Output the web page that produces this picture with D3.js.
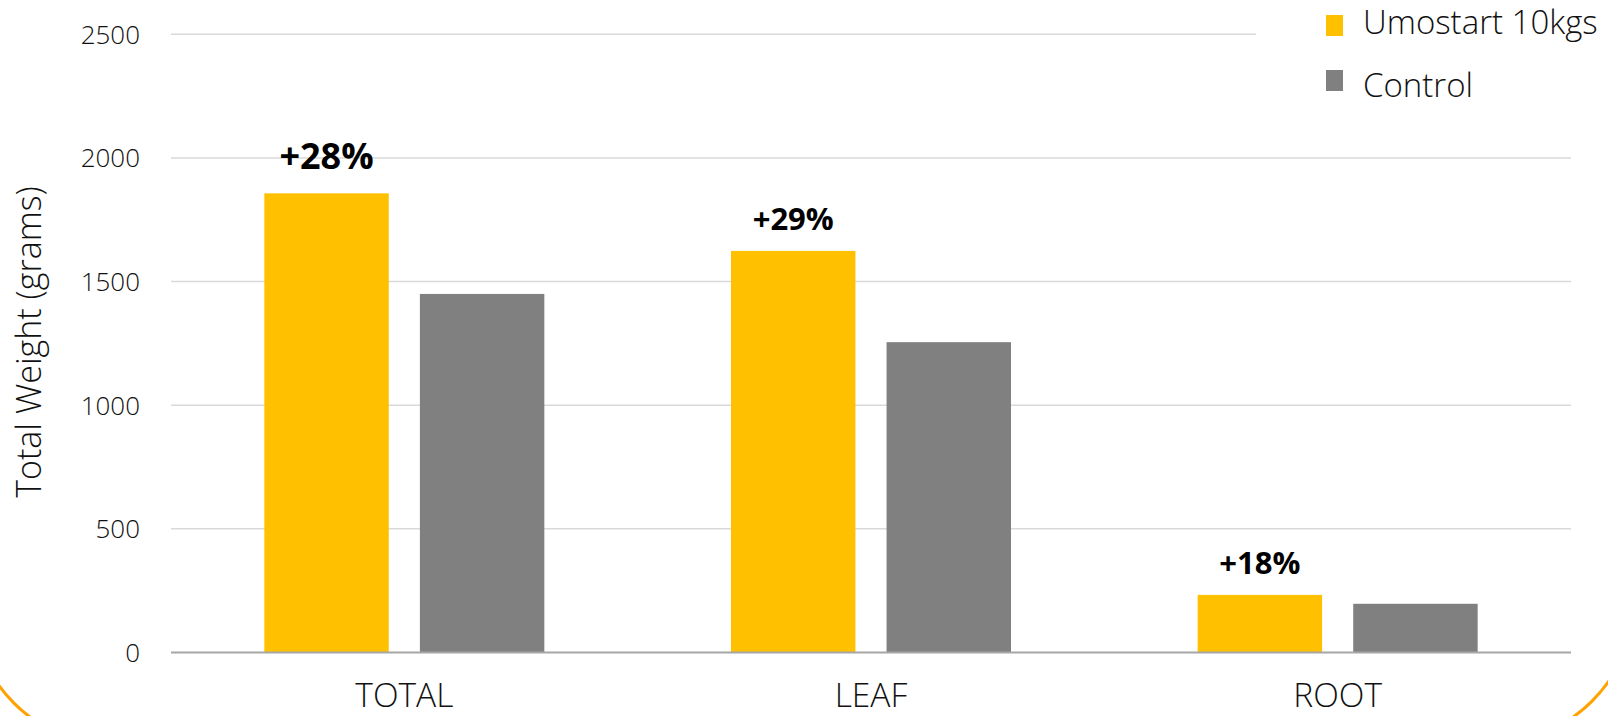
<html>
	<script src='https://cdn.jsdelivr.net/npm/d3@7'></script>
	<style>
		body { margin: 0; background: #fff; }
		text { font-family: 'Open Sans', sans-serif; fill: #111; }
	</style>
	<body onload='init()'>
		<svg width=1608 height=716></svg>
		<script>
			// chart data

			var categories = ["TOTAL", "LEAF", "ROOT"];
			var seriesNames = ["Umostart 10kgs", "Control"];
			var umostart = [1857, 1624, 233];
			var control = [1450, 1255, 197];
			var gainLabels = ["+28%", "+29%", "+18%"];
			var yTicks = [0, 500, 1000, 1500, 2000, 2500];

			var colors = ["#FFC000", "#808080"];
			var gainFontSize = [36, 31, 31];

			function init() {
				var svg = d3.select("svg");

				// plot area

				var left = 171, right = 1571, top = 34.3, bottom = 652.5;

				var y = d3.scaleLinear().domain([0, 2500]).range([bottom, top]);
				var x0 = d3.scaleBand().domain(categories).range([left, right]).padding(0);
				var x1 = d3.scaleBand().domain(seriesNames).range([0, x0.bandwidth()])
					.paddingInner(0.2).paddingOuter(0.6);

				// gridlines (top one stops short of the legend)

				svg.append("g").selectAll("line").data(yTicks.filter(function(t) { return t > 0; }))
					.enter().append("line")
					.attr("x1", left)
					.attr("x2", function(d) { return d == 2500 ? 1256 : right; })
					.attr("y1", function(d) { return y(d); })
					.attr("y2", function(d) { return y(d); })
					.attr("stroke", "#d9d9d9").attr("stroke-width", 1.5);

				// y tick labels

				svg.append("g").selectAll("text").data(yTicks).enter().append("text")
					.attr("x", 140).attr("y", function(d) { return y(d); })
					.attr("dy", "0.36em").attr("text-anchor", "end")
					.style("font-size", "26px").style("font-weight", 300)
					.text(function(d) { return d; });

				// bars

				var rows = categories.map(function(c, i) {
					return { cat: c, vals: [umostart[i], control[i]] };
				});

				var groups = svg.append("g").selectAll("g").data(rows).enter().append("g")
					.attr("transform", function(d) { return "translate(" + x0(d.cat) + ",0)"; });

				groups.selectAll("rect")
					.data(function(d) { return d.vals.map(function(v, j) { return { s: seriesNames[j], v: v, j: j }; }); })
					.enter().append("rect")
					.attr("x", function(d) { return x1(d.s); })
					.attr("width", x1.bandwidth())
					.attr("y", function(d) { return y(d.v); })
					.attr("height", function(d) { return bottom - y(d.v); })
					.attr("fill", function(d) { return colors[d.j]; });

				// baseline

				svg.append("line").attr("x1", left).attr("x2", right)
					.attr("y1", bottom).attr("y2", bottom)
					.attr("stroke", "#a6a6a6").attr("stroke-width", 2);

				// gain labels above the yellow bars

				svg.append("g").selectAll("text").data(gainLabels).enter().append("text")
					.attr("x", function(d, i) { return x0(categories[i]) + x1(seriesNames[0]) + x1.bandwidth() / 2; })
					.attr("y", function(d, i) { return y(umostart[i]) - gainFontSize[i] * 0.67; })
					.attr("text-anchor", "middle")
					.style("font-size", function(d, i) { return gainFontSize[i] + "px"; })
					.style("font-weight", 700).style("fill", "#000")
					.text(function(d) { return d; });

				// category labels

				svg.append("g").selectAll("text").data(categories).enter().append("text")
					.attr("x", function(d) { return x0(d) + x0.bandwidth() / 2; })
					.attr("y", 707)
					.attr("text-anchor", "middle")
					.style("font-size", "33.5px").style("font-weight", 300)
					.text(function(d) { return d; });

				// y axis title

				svg.append("text")
					.attr("transform", "translate(41,342) rotate(-90)")
					.attr("text-anchor", "middle")
					.style("font-size", "34px").style("font-weight", 300)
					.text("Total Weight (grams)");

				// legend

				var legendTop = [15, 70];
				var legendBase = [34.3, 97.3];

				var legend = svg.append("g").selectAll("g").data(seriesNames).enter().append("g");

				legend.append("rect").attr("x", 1326).attr("y", function(d, i) { return legendTop[i]; })
					.attr("width", 17).attr("height", 21)
					.attr("fill", function(d, i) { return colors[i]; });

				legend.append("text").attr("x", 1363).attr("y", function(d, i) { return legendBase[i]; })
					.style("font-size", "33px").style("font-weight", 300)
					.text(function(d) { return d; });

				// orange frame corners of the slide

				svg.append("path")
					.attr("transform", "translate(120,597)")
					.attr("d", d3.arc()({ innerRadius: 150, outerRadius: 150, startAngle: Math.PI, endAngle: 1.5 * Math.PI }))
					.attr("fill", "none").attr("stroke", "#FFA200").attr("stroke-width", 3);
				svg.append("path")
					.attr("transform", "translate(1486,595)")
					.attr("d", d3.arc()({ innerRadius: 150, outerRadius: 150, startAngle: 0.5 * Math.PI, endAngle: Math.PI }))
					.attr("fill", "none").attr("stroke", "#FFA200").attr("stroke-width", 3);
			}
		</script>
	</body>
</html>
